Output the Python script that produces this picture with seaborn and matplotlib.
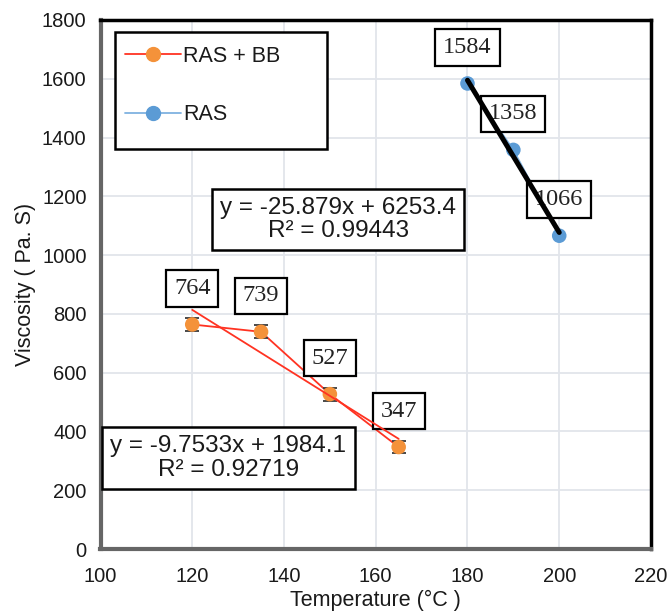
import numpy as np
import pandas as pd
import matplotlib
matplotlib.use("Agg")
import matplotlib.pyplot as plt
import seaborn as sns
from matplotlib.patches import Rectangle
from matplotlib.lines import Line2D

# ---- data ----
temp_bb = [120, 135, 150, 165]
visc_bb = [764, 739, 527, 347]
temp_ras = [180, 190, 200]
visc_ras = [1584, 1358, 1066]
series_names = ["RAS + BB", "RAS"]
eq_bb = "y = -9.7533x + 1984.1\nR² = 0.92719"
eq_ras = "y = -25.879x + 6253.4\nR² = 0.99443"
x_ticks = [100, 120, 140, 160, 180, 200, 220]
y_ticks = [0, 200, 400, 600, 800, 1000, 1200, 1400, 1600, 1800]
x_label = "Temperature (°C )"
y_label = "Viscosity ( Pa. S)"

RED = "#ff3322"
ORANGE = "#f4923a"
BLUE = "#5b9bd5"
BLUE_LINE = "#7fb2e0"

sns.set_theme(style="white")
plt.rcParams['font.family'] = ['Liberation Sans', 'DejaVu Sans']

fig = plt.figure(figsize=(6.7, 6.15), dpi=100)
ax = fig.add_axes([0.15, 0.1073, 0.8216, 0.8602])

ax.set_xlim(100, 220)
ax.set_ylim(0, 1800)
ax.set_xticks(x_ticks)
ax.set_yticks(y_ticks)
ax.grid(True, color="#e2e5eb", lw=1.3)
ax.set_axisbelow(True)

# RAS + BB series
sns.lineplot(x=temp_bb, y=visc_bb, color=RED, lw=1.3, ax=ax, zorder=3)
ax.errorbar(temp_bb, visc_bb, yerr=22, fmt='none', ecolor="#3a3a3a",
            elinewidth=0, capsize=5, capthick=1.3, zorder=3.5)
sns.scatterplot(x=temp_bb, y=visc_bb, color=ORANGE, s=110, edgecolor="none",
                ax=ax, zorder=4)
sns.regplot(x=temp_bb, y=visc_bb, scatter=False, ci=None, truncate=True,
            line_kws=dict(color=RED, lw=1.3, zorder=6), ax=ax)

# RAS series
sns.lineplot(x=temp_ras, y=visc_ras, color=BLUE_LINE, lw=1.3, ax=ax, zorder=3)
sns.scatterplot(x=temp_ras, y=visc_ras, color=BLUE, s=110, edgecolor="none",
                ax=ax, zorder=4)
sns.regplot(x=temp_ras, y=visc_ras, scatter=False, ci=None, truncate=True,
            line_kws=dict(color="black", lw=3.6, zorder=7), ax=ax)

# data labels
for xs, ys in [(temp_bb, visc_bb), (temp_ras, visc_ras)]:
    for x, y in zip(xs, ys):
        ax.annotate(str(y), (x, y), xytext=(0, 36), textcoords='offset pixels',
                    ha='center', va='center', fontsize=17.5,
                    family=['Liberation Serif', 'DejaVu Serif'], color="#222222",
                    bbox=dict(boxstyle='square,pad=0.32', fc='white', ec='black', lw=1.6),
                    zorder=5)

# equation boxes
for (xc, yc, s) in [(151.8, 1121, eq_ras), (127.9, 309.5, eq_bb)]:
    ax.text(xc, yc, s, ha='center', va='center', fontsize=17.5, linespacing=1.08,
            color="#1a1a1a",
            bbox=dict(boxstyle='square,pad=0.34', fc='white', ec='black', lw=1.8),
            zorder=8)

# legend
frame = Rectangle((0.0263, 0.756), 0.385, 0.221, transform=ax.transAxes,
                  fc='white', ec='black', lw=1.8, zorder=9)
ax.add_patch(frame)
handles = [Line2D([0], [0], color=RED, lw=1.3, marker='o', mfc=ORANGE, mec=ORANGE, ms=10),
           Line2D([0], [0], color=BLUE_LINE, lw=1.3, marker='o', mfc=BLUE, mec=BLUE, ms=10)]
leg = ax.legend(handles, series_names, loc='upper left', bbox_to_anchor=(0.0245, 0.972),
                frameon=False, borderpad=0, labelspacing=1.75, handlelength=2.6,
                handletextpad=0.12, fontsize=15.5)
leg.set_zorder(10)
for t in leg.get_texts():
    t.set_color("#1a1a1a")

# spines
for s in ['top', 'right']:
    ax.spines[s].set_color('black')
    ax.spines[s].set_linewidth(2.5)
for s in ['left', 'bottom']:
    ax.spines[s].set_color('#666666')
    ax.spines[s].set_linewidth(3)

ax.tick_params(axis='both', length=0, labelsize=14.5, labelcolor="#1a1a1a")
ax.tick_params(axis='x', pad=13)
ax.tick_params(axis='y', pad=10)
ax.set_xlabel(x_label, fontsize=15.5, color="#1a1a1a", labelpad=3)
ax.set_ylabel(y_label, fontsize=15.5, color="#1a1a1a", labelpad=4)

fig.savefig("out.png", dpi=100)
